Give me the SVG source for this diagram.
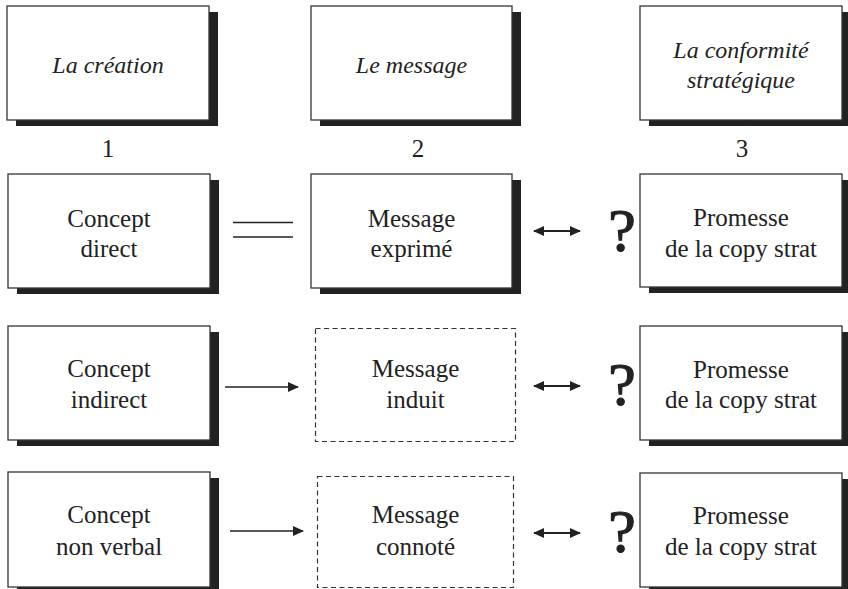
<svg xmlns="http://www.w3.org/2000/svg" width="848" height="589" viewBox="0 0 848 589">
  <defs>
    <style>
      .box { fill: #ffffff; stroke: #333333; stroke-width: 1.3; }
      .shadow { fill: #222222; }
      .dash { fill: #ffffff; stroke: #333333; stroke-width: 1.2; stroke-dasharray: 5 3.5; }
      .t { font-family: "Liberation Serif", "Times New Roman", serif; font-size: 25px; fill: #222222; text-anchor: middle; }
      .it { font-style: italic; font-size: 24px; }
      .q { font-family: "Liberation Serif", "Times New Roman", serif; font-size: 62px; fill: #222222; stroke: #222222; stroke-width: 1.2; text-anchor: middle; }
      .ln { stroke: #222222; stroke-width: 1.4; fill: none; }
      .dbl { stroke: #222222; stroke-width: 2; fill: none; }
    </style>
    <marker id="head" viewBox="0 0 11 10" refX="10" refY="5" markerWidth="11" markerHeight="10" markerUnits="userSpaceOnUse" orient="auto-start-reverse">
      <path d="M0,0 L11,5 L0,10 Z" fill="#222222"/>
    </marker>
  </defs>

  <!-- column headers -->
  <g id="header-creation">
    <rect class="shadow" x="16" y="12" width="202" height="114"/>
    <rect class="box" x="7" y="6" width="202" height="114"/>
    <text class="t it" x="108" y="73">La création</text>
  </g>
  <g id="header-message">
    <rect class="shadow" x="320" y="12" width="201" height="114"/>
    <rect class="box" x="311" y="6" width="201" height="114"/>
    <text class="t it" x="411.5" y="73">Le message</text>
  </g>
  <g id="header-conformite">
    <rect class="shadow" x="649" y="12" width="202" height="114"/>
    <rect class="box" x="640" y="6" width="202" height="114"/>
    <text class="t it" x="741" y="58">La conformité</text>
    <text class="t it" x="741" y="88">stratégique</text>
  </g>

  <!-- column numbers -->
  <g id="numbers">
    <text class="t" x="108" y="157">1</text>
    <text class="t" x="418" y="157">2</text>
    <text class="t" x="742" y="157">3</text>
  </g>

  <!-- row 1 -->
  <g id="concept-direct">
    <rect class="shadow" x="17" y="180" width="202" height="114"/>
    <rect class="box" x="8" y="174" width="202" height="114"/>
    <text class="t" x="109" y="227">Concept</text>
    <text class="t" x="109" y="257">direct</text>
  </g>
  <g id="message-exprime">
    <rect class="shadow" x="320" y="180" width="201" height="114"/>
    <rect class="box" x="311" y="174" width="201" height="114"/>
    <text class="t" x="411.5" y="227">Message</text>
    <text class="t" x="411.5" y="257">exprimé</text>
  </g>
  <g id="promesse-1">
    <rect class="shadow" x="649" y="180" width="202" height="113"/>
    <rect class="box" x="640" y="174" width="202" height="113"/>
    <text class="t" x="741" y="226">Promesse</text>
    <text class="t" x="741" y="257">de la copy strat</text>
  </g>

  <!-- row 2 -->
  <g id="concept-indirect">
    <rect class="shadow" x="17" y="332" width="202" height="114"/>
    <rect class="box" x="8" y="326" width="202" height="114"/>
    <text class="t" x="109" y="377">Concept</text>
    <text class="t" x="109" y="408">indirect</text>
  </g>
  <g id="message-induit">
    <rect class="dash" x="315.5" y="328.5" width="200" height="113"/>
    <text class="t" x="415.5" y="377">Message</text>
    <text class="t" x="415.5" y="408">induit</text>
  </g>
  <g id="promesse-2">
    <rect class="shadow" x="649" y="332" width="202" height="114"/>
    <rect class="box" x="640" y="326" width="202" height="114"/>
    <text class="t" x="741" y="378">Promesse</text>
    <text class="t" x="741" y="408">de la copy strat</text>
  </g>

  <!-- row 3 -->
  <g id="concept-non-verbal">
    <rect class="shadow" x="17" y="478" width="202" height="115"/>
    <rect class="box" x="8" y="472" width="202" height="115"/>
    <text class="t" x="109" y="523">Concept</text>
    <text class="t" x="109" y="555">non verbal</text>
  </g>
  <g id="message-connote">
    <rect class="dash" x="317.5" y="476.5" width="196" height="111"/>
    <text class="t" x="415.5" y="523">Message</text>
    <text class="t" x="415.5" y="555">connoté</text>
  </g>
  <g id="promesse-3">
    <rect class="shadow" x="649" y="479" width="202" height="114"/>
    <rect class="box" x="640" y="473" width="202" height="114"/>
    <text class="t" x="741" y="524">Promesse</text>
    <text class="t" x="741" y="555">de la copy strat</text>
  </g>

  <!-- question marks -->
  <g id="questions">
    <text class="q" x="622" y="251">?</text>
    <text class="q" x="622" y="405">?</text>
    <text class="q" x="622" y="552">?</text>
  </g>

  <!-- connectors -->
  <g id="connectors">
    <line class="ln" x1="233" y1="222.5" x2="293" y2="222.5"/>
    <line class="ln" x1="233" y1="237" x2="293" y2="237"/>
    <line class="dbl" x1="534" y1="231" x2="580" y2="231" marker-start="url(#head)" marker-end="url(#head)"/>
    <line class="ln" x1="225" y1="387" x2="298" y2="387" marker-end="url(#head)"/>
    <line class="dbl" x1="534" y1="386" x2="580" y2="386" marker-start="url(#head)" marker-end="url(#head)"/>
    <line class="ln" x1="230" y1="531" x2="303" y2="531" marker-end="url(#head)"/>
    <line class="dbl" x1="534" y1="533" x2="580" y2="533" marker-start="url(#head)" marker-end="url(#head)"/>
  </g>
</svg>
